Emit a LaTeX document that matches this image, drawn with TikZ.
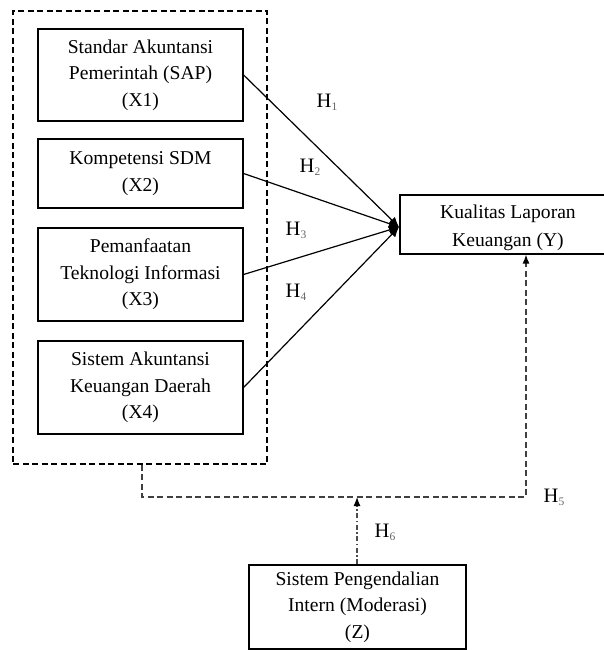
\documentclass[tikz,border=0pt]{standalone}
\usepackage{fontspec}
\setmainfont{Liberation Serif}
\usetikzlibrary{arrows.meta}
\newcommand{\hlab}[1]{H\raisebox{-3pt}{\fontsize{11.5}{11.5}\selectfont\color{black!60}#1}}
\begin{document}
\begin{tikzpicture}[x=1pt,y=-1pt,
  box/.style={draw,line width=1.2pt,inner sep=0pt,align=center,
    font=\fontsize{19.6}{26.5}\selectfont},
  conn/.style={line width=1.2pt,-{Latex[length=10pt,width=9pt]}},
  dashline/.style={line width=1.3pt,dash pattern=on 6pt off 3.5pt},
  hl/.style={font=\fontsize{20.5}{20.5}\selectfont,inner sep=0pt}]
\useasboundingbox (0,0) rectangle (604,650);
% group box
\node[draw,line width=1.1pt,dash pattern=on 6pt off 3.5pt,minimum width=254pt,minimum height=453pt,inner sep=0pt] (grp) at (140,237.5) {};
% independent variables
\node[box,minimum width=205pt,minimum height=92pt] (x1) at (140.5,75) {Standar Akuntansi\\Pemerintah (SAP)\\(X1)};
\node[box,minimum width=205pt,minimum height=69pt] (x2) at (140.5,173.5) {Kompetensi SDM\\(X2)};
\node[box,minimum width=205pt,minimum height=93pt] (x3) at (140.5,274.5) {Pemanfaatan\\Teknologi Informasi\\(X3)};
\node[box,minimum width=205pt,minimum height=93pt] (x4) at (140.5,387.5) {Sistem Akuntansi\\Keuangan Daerah\\(X4)};
% dependent
\node[draw,line width=1.2pt,minimum width=216pt,minimum height=59pt,inner sep=0pt] (y) at (508,224.5) {};
\node[inner sep=0pt,align=center,font=\fontsize{19.6}{28}\selectfont] (ytxt) at (508,228) {Kualitas Laporan\\Keuangan (Y)};
% moderator
\node[box,minimum width=217pt,minimum height=84pt] (z) at (357.5,607) {Sistem Pengendalian\\Intern (Moderasi)\\(Z)};
% convergence point
\coordinate (conv) at (399,227);
\draw[conn] (x1.east) -- (conv);
\draw[conn] (x2.east) -- (conv);
\draw[conn] (x3.east) -- (conv);
\draw[conn] (x4.east) -- (conv);
% H5 path
\coordinate (h5a) at (142,497);
\coordinate (h5b) at (526,497);
\draw[dashline,draw=black!75,-{Latex[length=9pt,width=7pt,black]}] (grp.south -| h5a) -- (h5a) -- (h5b) -- (h5b |- y.south);
% H6
\draw[line width=1.2pt,draw=black!70,dash pattern=on 5pt off 2.5pt on 1.5pt off 2.5pt,-{Latex[length=9pt,width=7pt,black]}] (z.north -| 357,0) -- (357,497);
% labels
\node[hl] (h1) at (327,102) {\hlab{1}};
\node[hl] (h2) at (310,167) {\hlab{2}};
\node[hl] (h3) at (296,230) {\hlab{3}};
\node[hl] (h4) at (296,292) {\hlab{4}};
\node[hl] (h5) at (554,497) {\hlab{5}};
\node[hl] (h6) at (385,532) {\hlab{6}};
\end{tikzpicture}
\end{document}
